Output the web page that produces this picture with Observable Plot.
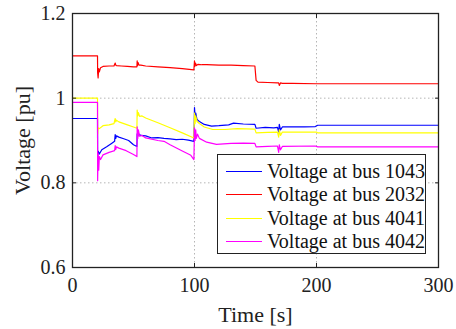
<!DOCTYPE html>
<html>
<head>
<meta charset="utf-8">
<script src="https://cdn.jsdelivr.net/npm/d3@7"></script>
<script src="https://cdn.jsdelivr.net/npm/@observablehq/plot@0.6"></script>
<style>
  html, body { margin: 0; padding: 0; background: #fff; }
  #wrap { position: relative; width: 456px; height: 329px; font-family: "Liberation Serif", "Times New Roman", "DejaVu Serif", serif; }
  #chart svg, #chart svg text { font-family: "Liberation Serif", "Times New Roman", "DejaVu Serif", serif !important; }
  #legend { position: absolute; left: 217px; top: 154px; width: 207px; height: 98px; border: 1.4px solid #222; background: #fff; }
  .row { position: absolute; left: 0; height: 24px; display: flex; align-items: center; font-size: 20px; color: #111; white-space: nowrap; }
  .sw { width: 36px; height: 0; border-top: 1.3px solid; margin-left: 8px; margin-right: 5px; }
</style>
</head>
<body>
<div id="wrap"><div id="chart"></div><div id="legend"></div></div>
<script>
// ---- data ----
const seriesNames = ["Voltage at bus 1043", "Voltage at bus 2032", "Voltage at bus 4041", "Voltage at bus 4042"];
const seriesColors = ["#0000ff", "#ff0000", "#ffff00", "#ff00ff"];

const bus1043T = [0,20.5,20.6,21,22,24,28,32,34.5,35,35.5,36,38,42,46,50,52.8,53,53.5,54,56,60,65,70,75,80,85,90,95,99.5,100,100.5,101,102,104,108,114,120,128,132,140,149.5,150.5,158,165,168,169,169.5,170.5,172,190,199,201,300];
const bus1043V = [0.952,0.952,0.86,0.875,0.868,0.878,0.885,0.893,0.898,0.914,0.905,0.911,0.908,0.904,0.9,0.89,0.886,0.916,0.91,0.916,0.912,0.911,0.906,0.907,0.905,0.904,0.902,0.903,0.901,0.898,0.978,0.955,0.965,0.95,0.945,0.938,0.934,0.935,0.937,0.941,0.939,0.938,0.929,0.931,0.93,0.931,0.92,0.938,0.925,0.932,0.932,0.933,0.936,0.936];

const bus2032T = [0,20.5,20.6,21,21.5,22,23,25,30,34,35,35.5,36,40,45,50,52.8,53,53.3,53.8,54.5,56,60,70,80,90,99.5,100,100.3,100.8,101.5,103,106,110,120,130,140,149.5,150.5,152,160,168,169,169.5,170.5,172,180,200,300];
const bus2032V = [1.1,1.1,1.06,1.048,1.07,1.062,1.072,1.075,1.076,1.076,1.083,1.078,1.077,1.076,1.075,1.074,1.074,1.088,1.077,1.084,1.078,1.078,1.076,1.074,1.072,1.07,1.067,1.088,1.075,1.083,1.077,1.08,1.079,1.079,1.078,1.078,1.077,1.076,1.042,1.038,1.037,1.036,1.036,1.03,1.036,1.035,1.035,1.034,1.034];

const bus4041T = [0,20.5,20.6,21,22,25,30,34,35,35.5,36,38,45,50,52.8,53,53.5,54,55,57,60,70,80,90,99.5,100,100.5,101,102,104,108,115,125,135,149.5,150.5,160,168,169,169.5,170.5,172,190,200,201,300];
const bus4041V = [1.0,1.0,0.915,0.93,0.928,0.935,0.937,0.94,0.952,0.944,0.948,0.944,0.937,0.932,0.929,0.972,0.958,0.966,0.957,0.958,0.953,0.942,0.93,0.918,0.906,0.965,0.94,0.958,0.945,0.94,0.932,0.926,0.926,0.928,0.927,0.918,0.919,0.92,0.908,0.925,0.912,0.92,0.92,0.92,0.918,0.918];

const bus4042T = [0,20.5,20.6,21,21.5,22,23,25,30,34.5,35,35.5,36,38,44,50,52.8,53,53.5,54,55,57,60,70,75,80,90,97,99.5,100,100.5,101,101.5,102.5,104,110,118,130,140,149.5,150.5,160,168,169,169.5,170.5,172,199,201,300];
const bus4042V = [0.99,0.99,0.805,0.87,0.83,0.862,0.855,0.866,0.872,0.876,0.888,0.879,0.885,0.882,0.876,0.867,0.862,0.932,0.905,0.925,0.91,0.912,0.906,0.9,0.898,0.89,0.875,0.865,0.855,0.93,0.9,0.925,0.905,0.915,0.905,0.896,0.891,0.893,0.894,0.893,0.885,0.886,0.887,0.872,0.89,0.878,0.886,0.887,0.885,0.885];

const xTicks = [0, 100, 200, 300];
const yTicks = [0.6, 0.8, 1.0, 1.2];
const yTickLabels = ["0.6", "0.8", "1", "1.2"];

// ---- build table ----
const allT = [bus1043T, bus2032T, bus4041T, bus4042T];
const allV = [bus1043V, bus2032V, bus4041V, bus4042V];
const rows = [];
allT.forEach((ts, i) => ts.forEach((t, j) => rows.push({series: seriesNames[i], t, v: allV[i][j]})));

const chart = Plot.plot({
  width: 456,
  height: 329,
  marginLeft: 72,
  marginRight: 18,
  marginTop: 13,
  marginBottom: 62,
  style: { fontFamily: "'Liberation Serif', 'Times New Roman', serif", fontSize: "20px", color: "#222", background: "#fff" },
  x: { domain: [0, 300] },
  y: { domain: [0.6, 1.2] },
  color: { domain: seriesNames, range: seriesColors },
  marks: [
    Plot.gridX(xTicks, { stroke: "#b5b5b5", strokeOpacity: 1, strokeDasharray: "1.5,2.5" }),
    Plot.gridY(yTicks, { stroke: "#b5b5b5", strokeOpacity: 1, strokeDasharray: "1.5,2.5" }),
    Plot.line(rows, { x: "t", y: "v", z: "series", stroke: "series", strokeWidth: 1.2, curve: "linear" }),
    Plot.frame({ stroke: "#222", strokeWidth: 1.3 }),
    Plot.axisX(xTicks, { anchor: "bottom", tickSize: 0, tickPadding: 10, label: "Time [s]", labelAnchor: "center", labelArrow: "none", labelOffset: 54, fontSize: 20, tickFormat: d => String(d) }),
    Plot.axisX(xTicks, { anchor: "bottom", tickSize: -4, tickFormat: () => "", label: null }),
    Plot.axisX(xTicks, { anchor: "top", tickSize: -4, tickFormat: () => "", label: null }),
    Plot.axisY(yTicks, { anchor: "left", tickSize: 0, tickPadding: 7, fontSize: 20, label: "Voltage [pu]", labelAnchor: "center", labelArrow: "none", labelOffset: 58, tickFormat: d => yTickLabels[yTicks.indexOf(d)] }),
    Plot.axisY(yTicks, { anchor: "left", tickSize: -4, tickFormat: () => "", label: null }),
    Plot.axisY(yTicks, { anchor: "right", tickSize: -4, tickFormat: () => "", label: null })
  ]
});
document.getElementById("chart").appendChild(chart);
// enlarge axis labels (MATLAB label multiplier)
chart.querySelectorAll("g[aria-label='x-axis label'] text, g[aria-label='y-axis label'] text").forEach(t => { t.setAttribute("font-size", "22"); t.style.fontWeight = "normal"; });

// ---- legend overlay ----
const legend = document.getElementById("legend");
seriesNames.forEach((name, i) => {
  const row = document.createElement("div");
  row.className = "row";
  row.style.top = (4 + i * 23.5) + "px";
  const sw = document.createElement("span");
  sw.className = "sw";
  sw.style.borderTopColor = seriesColors[i];
  const tx = document.createElement("span");
  tx.textContent = name;
  row.appendChild(sw);
  row.appendChild(tx);
  legend.appendChild(row);
});
</script>
</body>
</html>
